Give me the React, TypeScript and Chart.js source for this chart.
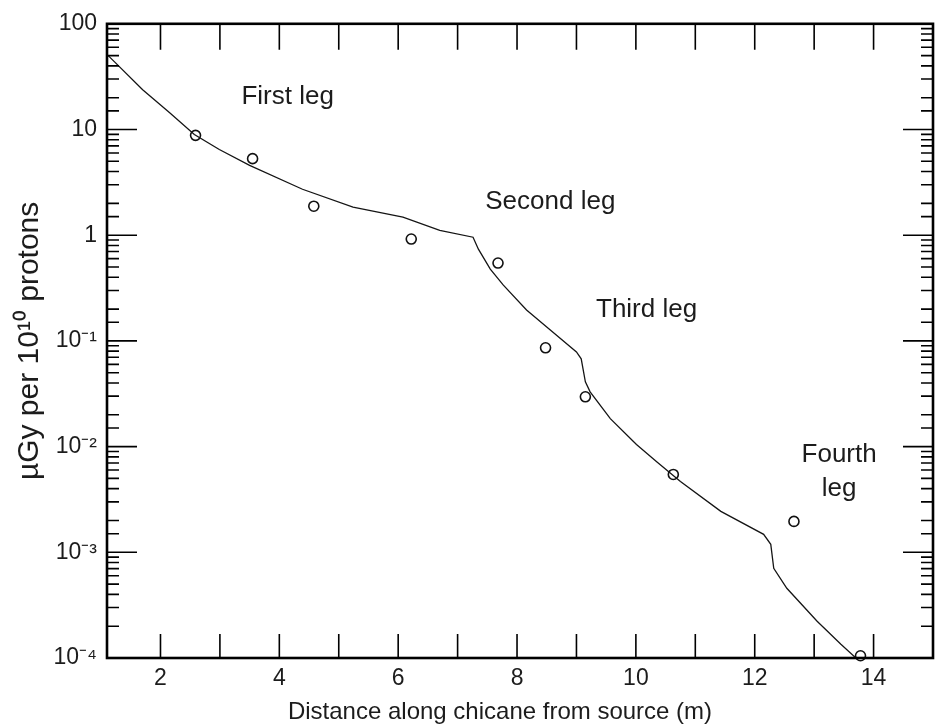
import React, { useEffect, useRef } from 'react';
import { Chart, registerables } from 'chart.js';

Chart.register(...registerables);

// Calculated curve (distance in m, dose in µGy per 10^10 protons)
const curveX = [1.12, 1.24, 1.70, 2.15, 2.57, 2.99, 3.50, 4.39, 5.24, 6.08, 6.70, 7.26, 7.35, 7.55, 7.77, 8.16, 8.56, 9.00, 9.08, 9.15, 9.23, 9.57, 10.01, 10.35, 10.75, 11.43, 12.15, 12.27, 12.32, 12.54, 13.05, 13.45, 13.72];
const curveY = [50, 42.9, 23.8, 14.5, 8.97, 6.47, 4.57, 2.72, 1.84, 1.48, 1.11, 0.957, 0.738, 0.478, 0.337, 0.196, 0.127, 0.0787, 0.0676, 0.041, 0.033, 0.0184, 0.01045, 0.0072, 0.00468, 0.00244, 0.00148, 0.00119, 0.000706, 0.000457, 0.000223, 0.000135, 0.000098];

// Measured points
const measX = [2.59, 3.55, 4.58, 6.22, 7.68, 8.48, 9.15, 10.63, 12.66, 13.78];
const measY = [8.8, 5.3, 1.88, 0.92, 0.545, 0.086, 0.0296, 0.00545, 0.00196, 0.000105];

// Leg annotations
const noteText = ['First leg', 'Second leg', 'Third leg', 'Fourth', 'leg'];
const noteX = [4.14, 8.56, 10.18, 13.42, 13.42];
const noteY = [20.5, 2.09, 0.196, 0.0084, 0.0040];

// Tick labels
const xTickValues = [2, 4, 6, 8, 10, 12, 14];
const xTickLabels = ['2', '4', '6', '8', '10', '12', '14'];
const yDecades = [0.0001, 0.001, 0.01, 0.1, 1, 10, 100];
const yDecadeLabels = ['10⁻⁴', '10⁻³', '10⁻²', '10⁻¹', '1', '10', '100'];

const xTitle = 'Distance along chicane from source (m)';
const yTitle = 'µGy per 10¹⁰ protons';

const FONT = '"Liberation Sans", Arial, Helvetica, sans-serif';
const INK = '#1c1c1c';

const decorPlugin = {
  id: 'decor',
  afterDatasetsDraw(chart: any) {
    const { ctx, scales } = chart;
    const xs = scales.x;
    const ys = scales.y;
    ctx.save();
    ctx.fillStyle = INK;
    ctx.font = `26px ${FONT}`;
    ctx.textAlign = 'center';
    ctx.textBaseline = 'middle';
    for (let i = 0; i < noteText.length; i++) {
      ctx.fillText(noteText[i], xs.getPixelForValue(noteX[i]), ys.getPixelForValue(noteY[i]));
    }
    ctx.restore();
  },
  afterDraw(chart: any) {
    const { ctx, chartArea, scales } = chart;
    const { left, right, top, bottom } = chartArea;
    const xs = scales.x;
    const ys = scales.y;
    ctx.save();
    ctx.strokeStyle = '#000';
    ctx.lineWidth = 1.6;
    ctx.beginPath();
    for (const t of xs.ticks) {
      const v = t.value;
      if (v <= xs.min || v >= xs.max) continue;
      const px = xs.getPixelForValue(v);
      ctx.moveTo(px, bottom);
      ctx.lineTo(px, bottom - 24);
      ctx.moveTo(px, top);
      ctx.lineTo(px, top + 26);
    }
    for (const t of ys.ticks) {
      const v = t.value;
      if (v < ys.min || v > ys.max) continue;
      const py = ys.getPixelForValue(v);
      const lg = Math.log10(v);
      const major = Math.abs(lg - Math.round(lg)) < 1e-6;
      const len = major ? 30 : 12;
      ctx.moveTo(left, py);
      ctx.lineTo(left + len, py);
      ctx.moveTo(right, py);
      ctx.lineTo(right - len, py);
    }
    ctx.stroke();
    ctx.lineWidth = 2.6;
    ctx.strokeRect(left, top, right - left, bottom - top);

    // x-axis title (slightly left of the plot centre, as in the original)
    ctx.fillStyle = INK;
    ctx.font = `24px ${FONT}`;
    ctx.textAlign = 'center';
    ctx.textBaseline = 'middle';
    ctx.fillText(xTitle, (left + right) / 2 - 20, chart.height - 15);
    ctx.restore();
  },
};

export default function App() {
  const ref = useRef<HTMLCanvasElement | null>(null);

  useEffect(() => {
    document.body.style.margin = '0';
    const canvas = ref.current;
    if (!canvas) return;
    const chart = new Chart(canvas, {
      type: 'line',
      data: {
        datasets: [
          {
            label: 'Calculated',
            data: curveX.map((x, i) => ({ x, y: curveY[i] })),
            borderColor: '#151515',
            borderWidth: 1.3,
            pointRadius: 0,
            tension: 0,
            fill: false,
          },
          {
            label: 'Measured',
            type: 'scatter',
            data: measX.map((x, i) => ({ x, y: measY[i] })),
            showLine: false,
            pointStyle: 'circle',
            pointRadius: 5,
            borderColor: '#111',
            borderWidth: 1.6,
            backgroundColor: 'rgba(255,255,255,0)',
            clip: false,
          } as any,
        ],
      },
      options: {
        animation: false,
        responsive: false,
        layout: { padding: { top: 21, right: 11, left: 0, bottom: 0 } },
        plugins: {
          legend: { display: false },
          tooltip: { enabled: false },
        },
        scales: {
          x: {
            type: 'linear',
            min: 1.1,
            max: 15,
            grid: { display: false, drawTicks: false },
            border: { display: false },
            ticks: {
              stepSize: 1,
              includeBounds: false,
              autoSkip: false,
              maxRotation: 0,
              padding: 7,
              color: INK,
              font: { family: FONT, size: 23 },
              callback: (v: any) => {
                const i = xTickValues.indexOf(Number(v));
                return i >= 0 ? xTickLabels[i] : '';
              },
            },
            title: { display: false },
            afterFit: (s: any) => {
              s.height = 69;
            },
          },
          y: {
            type: 'logarithmic',
            min: 0.0001,
            max: 100,
            grid: { display: false, drawTicks: false },
            border: { display: false },
            ticks: {
              autoSkip: false,
              padding: 10,
              color: INK,
              font: { family: FONT, size: 23 },
              callback: (v: any) => {
                const lv = Math.log10(Number(v));
                const i = yDecades.findIndex((d) => Math.abs(Math.log10(d) - lv) < 1e-6);
                return i >= 0 ? yDecadeLabels[i] : '';
              },
            },
            title: {
              display: true,
              text: yTitle,
              color: INK,
              font: { family: FONT, size: 30 },
              padding: { top: 12, bottom: 0 },
            },
            afterFit: (s: any) => {
              s.width = 107;
            },
          },
        },
      },
      plugins: [decorPlugin],
    } as any);
    return () => chart.destroy();
  }, []);

  return (
    <div style={{ width: 944, height: 727, background: '#fff' }}>
      <canvas ref={ref} width={944} height={727} />
    </div>
  );
}
